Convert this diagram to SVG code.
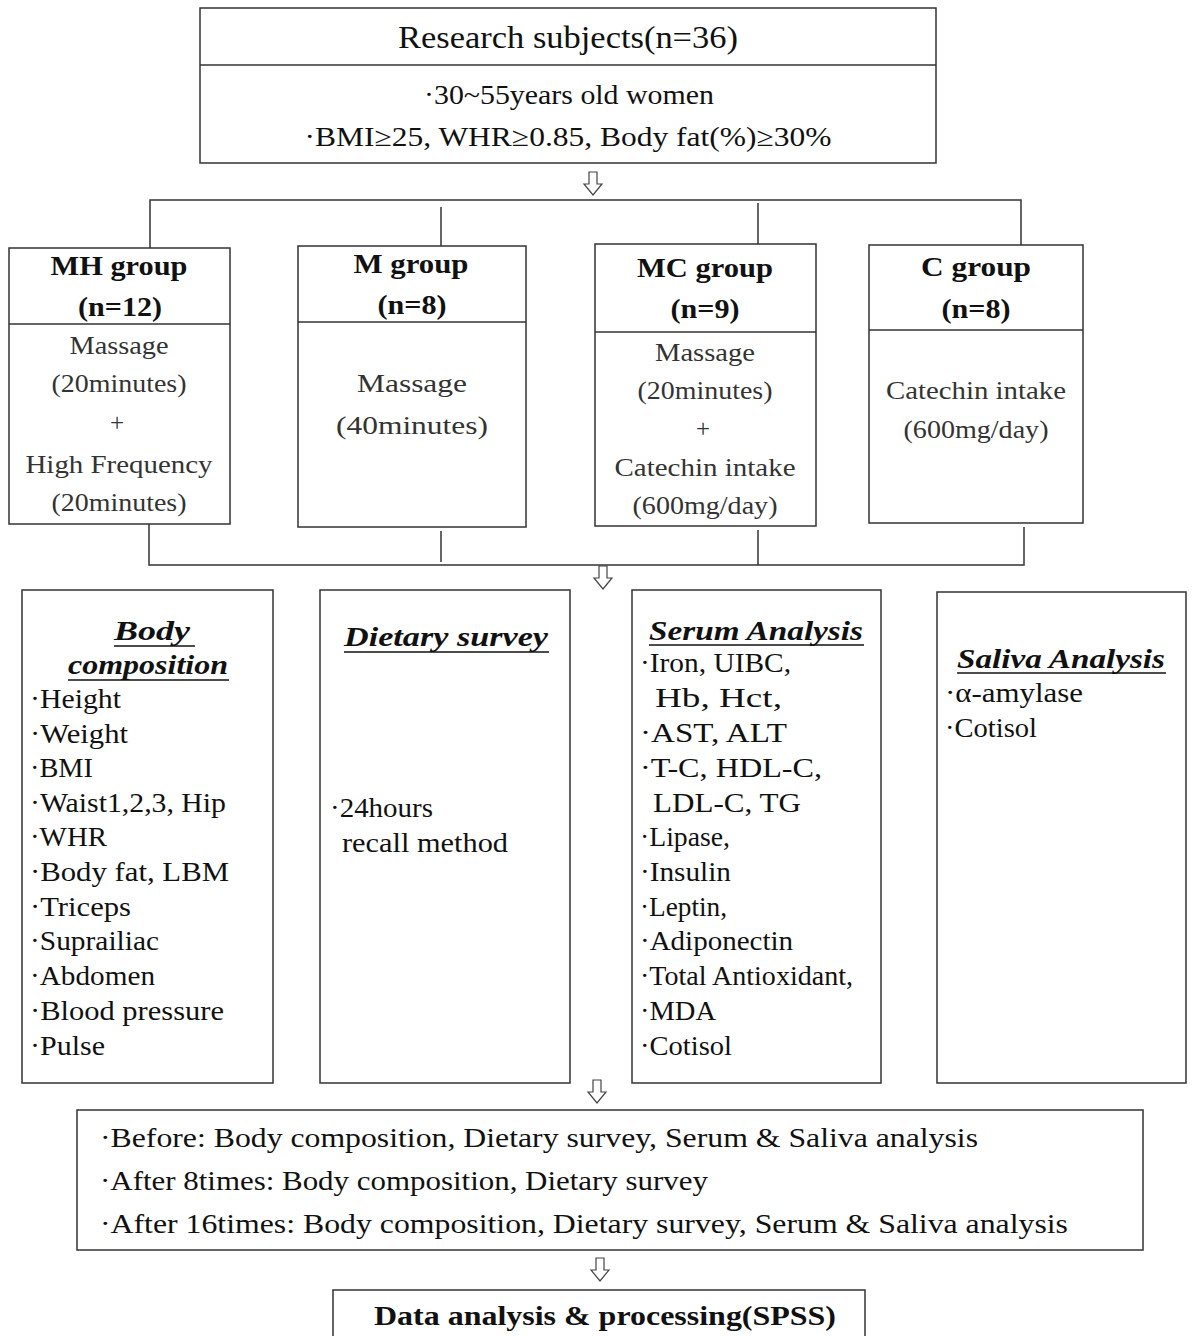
<svg xmlns="http://www.w3.org/2000/svg" width="1194" height="1336" viewBox="0 0 1194 1336">
<style>
.box{fill:#fff;stroke:#333;stroke-width:1.5}
.ln{fill:none;stroke:#333;stroke-width:1.5}
.t{font-family:"Liberation Serif",serif;fill:#111}
.hd{font-family:"Liberation Serif",serif;font-weight:bold;fill:#111;font-size:27px}
.g{font-family:"Liberation Serif",serif;fill:#333;font-size:25px}
.it{font-family:"Liberation Serif",serif;font-weight:bold;font-style:italic;fill:#111;font-size:28px}
.i{font-family:"Liberation Serif",serif;fill:#111;font-size:27px}
.ul{stroke:#111;stroke-width:1.5}
.arr{fill:#fff;stroke:#444;stroke-width:1.2}
</style>
<defs>
<path id="dn" class="arr" d="M-4,0 H4 V12 H9 L0,23 L-9,12 H-4 Z"/>
</defs>

<g id="subjects">
<rect class="box" x="200" y="8" width="736" height="155"/>
<line class="ln" x1="200" y1="65" x2="936" y2="65"/>
<text class="t" x="568" y="48" text-anchor="middle" font-size="31" textLength="340" lengthAdjust="spacingAndGlyphs">Research  subjects(n=36)</text>
<text class="t" x="569" y="104" text-anchor="middle" font-size="27" textLength="290" lengthAdjust="spacingAndGlyphs">·30~55years  old  women</text>
<text class="t" x="568" y="146" text-anchor="middle" font-size="27" textLength="527" lengthAdjust="spacingAndGlyphs">·BMI≥25,  WHR≥0.85,  Body  fat(%)≥30%</text>
</g>

<g id="connectors">
<use href="#dn" x="593" y="172"/>
<polyline class="ln" points="150,248 150,200 1021,200 1021,246"/>
<line class="ln" x1="441" y1="207" x2="441" y2="246"/>
<line class="ln" x1="758" y1="203" x2="758" y2="244"/>
<polyline class="ln" points="149,524 149,565 1024,565 1024,527"/>
<line class="ln" x1="441" y1="531" x2="441" y2="562"/>
<line class="ln" x1="758" y1="530" x2="758" y2="565"/>
<use href="#dn" x="603" y="566"/>
<use href="#dn" x="597" y="1080"/>
<use href="#dn" x="600" y="1258"/>
</g>

<g id="mh-group">
<rect class="box" x="9" y="248" width="221" height="276"/>
<line class="ln" x1="9" y1="324" x2="230" y2="324"/>
<text class="hd" x="119" y="275" text-anchor="middle" textLength="137" lengthAdjust="spacingAndGlyphs">MH  group</text>
<text class="hd" x="120" y="316" text-anchor="middle" textLength="84" lengthAdjust="spacingAndGlyphs">(n=12)</text>
<text class="g" x="119" y="354" text-anchor="middle" textLength="99" lengthAdjust="spacingAndGlyphs">Massage</text>
<text class="g" x="119" y="392" text-anchor="middle" textLength="135" lengthAdjust="spacingAndGlyphs">(20minutes)</text>
<text class="g" x="117" y="431" text-anchor="middle">+</text>
<text class="g" x="119" y="473" text-anchor="middle" textLength="187" lengthAdjust="spacingAndGlyphs">High  Frequency</text>
<text class="g" x="119" y="511" text-anchor="middle" textLength="135" lengthAdjust="spacingAndGlyphs">(20minutes)</text>
</g>

<g id="m-group">
<rect class="box" x="298" y="246" width="228" height="281"/>
<line class="ln" x1="298" y1="322" x2="526" y2="322"/>
<text class="hd" x="411" y="273" text-anchor="middle" textLength="115" lengthAdjust="spacingAndGlyphs">M  group</text>
<text class="hd" x="412" y="314" text-anchor="middle" textLength="69" lengthAdjust="spacingAndGlyphs">(n=8)</text>
<text class="g" x="412" y="392" text-anchor="middle" font-size="27" textLength="110" lengthAdjust="spacingAndGlyphs">Massage</text>
<text class="g" x="412" y="434" text-anchor="middle" font-size="27" textLength="152" lengthAdjust="spacingAndGlyphs">(40minutes)</text>
</g>

<g id="mc-group">
<rect class="box" x="595" y="244" width="221" height="282"/>
<line class="ln" x1="595" y1="332" x2="816" y2="332"/>
<text class="hd" x="705" y="277" text-anchor="middle" textLength="136" lengthAdjust="spacingAndGlyphs">MC  group</text>
<text class="hd" x="705" y="318" text-anchor="middle" textLength="69" lengthAdjust="spacingAndGlyphs">(n=9)</text>
<text class="g" x="705" y="361" text-anchor="middle" textLength="100" lengthAdjust="spacingAndGlyphs">Massage</text>
<text class="g" x="705" y="399" text-anchor="middle" textLength="135" lengthAdjust="spacingAndGlyphs">(20minutes)</text>
<text class="g" x="703" y="437" text-anchor="middle">+</text>
<text class="g" x="705" y="476" text-anchor="middle" textLength="181" lengthAdjust="spacingAndGlyphs">Catechin  intake</text>
<text class="g" x="705" y="514" text-anchor="middle" textLength="145" lengthAdjust="spacingAndGlyphs">(600mg/day)</text>
</g>

<g id="c-group">
<rect class="box" x="869" y="245" width="214" height="278"/>
<line class="ln" x1="869" y1="330" x2="1083" y2="330"/>
<text class="hd" x="976" y="276" text-anchor="middle" textLength="110" lengthAdjust="spacingAndGlyphs">C  group</text>
<text class="hd" x="976" y="318" text-anchor="middle" textLength="69" lengthAdjust="spacingAndGlyphs">(n=8)</text>
<text class="g" x="976" y="399" text-anchor="middle" textLength="180" lengthAdjust="spacingAndGlyphs">Catechin  intake</text>
<text class="g" x="976" y="438" text-anchor="middle" textLength="145" lengthAdjust="spacingAndGlyphs">(600mg/day)</text>
</g>

<g id="body-composition">
<rect class="box" x="22" y="590" width="251" height="493"/>
<text class="it" x="114" y="640" textLength="76" lengthAdjust="spacingAndGlyphs">Body</text>
<line class="ul" x1="114" y1="646" x2="195" y2="646"/>
<text class="it" x="148" y="674" text-anchor="middle" textLength="160" lengthAdjust="spacingAndGlyphs">composition</text>
<line class="ul" x1="68" y1="680" x2="229" y2="680"/>
<text class="i" x="30" y="708" textLength="91" lengthAdjust="spacingAndGlyphs">·Height</text>
<text class="i" x="30" y="743" textLength="98" lengthAdjust="spacingAndGlyphs">·Weight</text>
<text class="i" x="30" y="777" textLength="63" lengthAdjust="spacingAndGlyphs">·BMI</text>
<text class="i" x="30" y="812" textLength="196" lengthAdjust="spacingAndGlyphs">·Waist1,2,3,  Hip</text>
<text class="i" x="30" y="846" textLength="77" lengthAdjust="spacingAndGlyphs">·WHR</text>
<text class="i" x="30" y="881" textLength="199" lengthAdjust="spacingAndGlyphs">·Body  fat,  LBM</text>
<text class="i" x="30" y="916" textLength="101" lengthAdjust="spacingAndGlyphs">·Triceps</text>
<text class="i" x="30" y="950" textLength="129" lengthAdjust="spacingAndGlyphs">·Suprailiac</text>
<text class="i" x="30" y="985" textLength="125" lengthAdjust="spacingAndGlyphs">·Abdomen</text>
<text class="i" x="30" y="1020" textLength="194" lengthAdjust="spacingAndGlyphs">·Blood  pressure</text>
<text class="i" x="30" y="1055" textLength="75" lengthAdjust="spacingAndGlyphs">·Pulse</text>
</g>

<g id="dietary-survey">
<rect class="box" x="320" y="590" width="250" height="493"/>
<text class="it" x="446" y="646" text-anchor="middle" textLength="204" lengthAdjust="spacingAndGlyphs">Dietary  survey</text>
<line class="ul" x1="344" y1="652" x2="549" y2="652"/>
<text class="i" x="330" y="817" textLength="103" lengthAdjust="spacingAndGlyphs">·24hours</text>
<text class="i" x="342" y="852" textLength="166" lengthAdjust="spacingAndGlyphs">recall  method</text>
</g>

<g id="serum-analysis">
<rect class="box" x="632" y="590" width="249" height="493"/>
<text class="it" x="756" y="640" text-anchor="middle" textLength="214" lengthAdjust="spacingAndGlyphs">Serum  Analysis</text>
<line class="ul" x1="649" y1="645" x2="864" y2="645"/>
<text class="i" x="640" y="672" textLength="151" lengthAdjust="spacingAndGlyphs">·Iron,  UIBC,</text>
<text class="i" x="655" y="707" textLength="127" lengthAdjust="spacingAndGlyphs">Hb,  Hct,</text>
<text class="i" x="640" y="742" textLength="147" lengthAdjust="spacingAndGlyphs">·AST,  ALT</text>
<text class="i" x="640" y="777" textLength="182" lengthAdjust="spacingAndGlyphs">·T-C,  HDL-C,</text>
<text class="i" x="653" y="812" textLength="148" lengthAdjust="spacingAndGlyphs">LDL-C,  TG</text>
<text class="i" x="640" y="846" textLength="90" lengthAdjust="spacingAndGlyphs">·Lipase,</text>
<text class="i" x="640" y="881" textLength="91" lengthAdjust="spacingAndGlyphs">·Insulin</text>
<text class="i" x="640" y="916" textLength="87" lengthAdjust="spacingAndGlyphs">·Leptin,</text>
<text class="i" x="640" y="950" textLength="153" lengthAdjust="spacingAndGlyphs">·Adiponectin</text>
<text class="i" x="640" y="985" font-size="24" textLength="213" lengthAdjust="spacingAndGlyphs">·Total  Antioxidant,</text>
<text class="i" x="640" y="1020" textLength="76" lengthAdjust="spacingAndGlyphs">·MDA</text>
<text class="i" x="640" y="1055" textLength="92" lengthAdjust="spacingAndGlyphs">·Cotisol</text>
</g>

<g id="saliva-analysis">
<rect class="box" x="937" y="592" width="249" height="491"/>
<text class="it" x="1061" y="668" text-anchor="middle" textLength="208" lengthAdjust="spacingAndGlyphs">Saliva  Analysis</text>
<line class="ul" x1="957" y1="673" x2="1166" y2="673"/>
<text class="i" x="945" y="702" textLength="138" lengthAdjust="spacingAndGlyphs">·α-amylase</text>
<text class="i" x="945" y="737" textLength="92" lengthAdjust="spacingAndGlyphs">·Cotisol</text>
</g>

<g id="schedule">
<rect class="box" x="77" y="1110" width="1066" height="140"/>
<text class="i" x="100" y="1147" font-size="28" textLength="878" lengthAdjust="spacingAndGlyphs">·Before:  Body  composition,   Dietary  survey,  Serum  &amp;  Saliva  analysis</text>
<text class="i" x="100" y="1190" font-size="28" textLength="608" lengthAdjust="spacingAndGlyphs">·After  8times:  Body  composition,  Dietary  survey</text>
<text class="i" x="100" y="1233" font-size="28" textLength="968" lengthAdjust="spacingAndGlyphs">·After  16times:  Body  composition,   Dietary  survey,  Serum  &amp;  Saliva  analysis</text>
</g>

<g id="data-analysis">
<rect class="box" x="333" y="1290" width="532" height="60"/>
<text class="t" x="605" y="1325" text-anchor="middle" font-size="28" font-weight="bold" textLength="462" lengthAdjust="spacingAndGlyphs">Data  analysis  &amp;  processing(SPSS)</text>
</g>
</svg>
